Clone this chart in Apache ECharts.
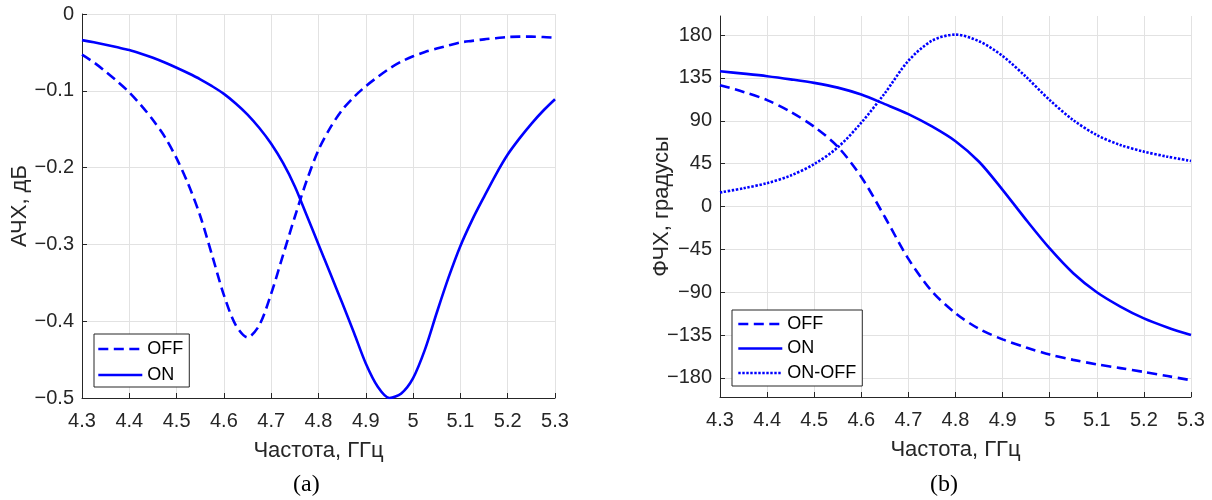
<!DOCTYPE html>
<html>
<head>
<meta charset="utf-8">
<script src="https://cdn.jsdelivr.net/npm/echarts@6/dist/echarts.min.js"></script>
<style>
  html, body { margin: 0; padding: 0; background: #fff; }
  #chart { width: 1212px; height: 500px; }
</style>
</head>
<body>
<div id="chart"></div>
<script>
// (a) magnitude response, dB (step 0.025 GHz)
const freqAmp = [4.300, 4.325, 4.350, 4.375, 4.400, 4.425, 4.450, 4.475, 4.500, 4.525, 4.550, 4.575, 4.600, 4.625, 4.650, 4.675, 4.700, 4.725, 4.750, 4.775, 4.800, 4.825, 4.850, 4.875, 4.900, 4.925, 4.950, 4.975, 5.000, 5.025, 5.050, 5.075, 5.100, 5.125, 5.150, 5.175, 5.200, 5.225, 5.250, 5.275, 5.300];
const ampOff = [-0.053, -0.063, -0.075, -0.088, -0.102, -0.119, -0.138, -0.160, -0.188, -0.222, -0.263, -0.314, -0.366, -0.405, -0.421, -0.405, -0.364, -0.314, -0.264, -0.217, -0.177, -0.148, -0.125, -0.108, -0.094, -0.082, -0.071, -0.062, -0.055, -0.0495, -0.045, -0.041, -0.037, -0.035, -0.033, -0.0315, -0.030, -0.0295, -0.0295, -0.030, -0.031];
const ampOn = [-0.0340, -0.0369, -0.0400, -0.0434, -0.0470, -0.0517, -0.0570, -0.0632, -0.0700, -0.0772, -0.0850, -0.0940, -0.1040, -0.1165, -0.1310, -0.1485, -0.1690, -0.1940, -0.2245, -0.2620, -0.3000, -0.3380, -0.3760, -0.4150, -0.4550, -0.4850, -0.5000, -0.4940, -0.4740, -0.4370, -0.3890, -0.3430, -0.3020, -0.2680, -0.2380, -0.2090, -0.1830, -0.1620, -0.1430, -0.1260, -0.1110];

// (b) phase response, degrees (step 0.05 GHz)
const freqPhase = [4.30, 4.35, 4.40, 4.45, 4.50, 4.55, 4.60, 4.65, 4.70, 4.75, 4.80, 4.85, 4.90, 4.95, 5.00, 5.05, 5.10, 5.15, 5.20, 5.25, 5.30];
const phaseOff = [127.4, 120.3, 111.7, 99.4, 83.7, 62.8, 31.0, -11.0, -55.0, -89.0, -112.0, -128.5, -139.5, -148.0, -155.5, -161.0, -165.7, -169.7, -173.7, -178.0, -182.4];
const phaseOn = [142.0, 139.5, 136.8, 133.5, 129.8, 124.8, 117.5, 107.5, 97.0, 84.0, 68.5, 47.0, 17.5, -14.0, -44.0, -70.0, -90.0, -105.0, -117.5, -127.0, -135.0];
const phaseDiff = [14.7, 19.2, 24.5, 32.5, 44.5, 62.0, 88.0, 119.0, 153.0, 174.0, 180.5, 173.5, 158.0, 136.0, 111.7, 90.7, 75.0, 64.6, 57.6, 52.3, 47.8];

// tick layout
const freqTicks = { min: 4.3, max: 5.3, interval: 0.1 };
const ampTicks = { min: -0.5, max: 0, interval: 0.1 };
const phaseRange = { min: -200, max: 200 };
const phaseTickValues = [-180, -135, -90, -45, 0, 45, 90, 135, 180];

const pairs = (xs, ys) => xs.map((x, i) => [x, ys[i]]);

const AXIS = '#262626';
const GRID = '#e2e2e2';
const BLUE = '#0000ff';
const SANS = 'Liberation Sans, Arial, Helvetica, sans-serif';
const SERIF = 'Liberation Serif, Times New Roman, serif';
const minus = s => String(s).replace('-', '\u2212');

const tickStyle = { show: true, inside: true, length: 5, lineStyle: { color: AXIS } };
const axisLineStyle = { show: true, onZero: false, lineStyle: { color: AXIS, width: 1 } };
const gridLines = { show: true, lineStyle: { color: GRID, width: 1 } };

function xAxisFor(gridIndex) {
  return {
    type: 'value', gridIndex,
    min: freqTicks.min, max: freqTicks.max, interval: freqTicks.interval,
    name: 'Частота, ГГц', nameLocation: 'middle', nameGap: 42, nameMoveOverlap: false,
    nameTextStyle: { fontFamily: SANS, fontSize: 22, color: AXIS },
    axisLine: axisLineStyle,
    axisTick: tickStyle,
    axisLabel: { fontFamily: SANS, fontSize: 20, color: AXIS, margin: 13,
                 formatter: v => minus(+v.toFixed(1)) },
    splitLine: gridLines
  };
}

const ampAxis = {
  type: 'value', gridIndex: 0,
  min: ampTicks.min, max: ampTicks.max, interval: ampTicks.interval,
  name: 'АЧХ, дБ', nameLocation: 'middle', nameRotate: 90, nameGap: 51, nameMoveOverlap: false,
  nameTextStyle: { fontFamily: SANS, fontSize: 22, color: AXIS },
  axisLine: axisLineStyle,
  axisTick: tickStyle,
  axisLabel: { fontFamily: SANS, fontSize: 20, color: AXIS, margin: 8,
               formatter: v => minus(+v.toFixed(2)) },
  splitLine: gridLines
};

const phaseAxis = {
  type: 'value', gridIndex: 1,
  min: phaseRange.min, max: phaseRange.max,
  name: 'ФЧХ, градусы', nameLocation: 'middle', nameRotate: 90, nameGap: 47, nameMoveOverlap: false,
  nameTextStyle: { fontFamily: SANS, fontSize: 22, color: AXIS },
  axisLine: axisLineStyle,
  axisTick: Object.assign({}, tickStyle, { customValues: phaseTickValues }),
  axisLabel: { fontFamily: SANS, fontSize: 20, color: AXIS, margin: 8,
               customValues: phaseTickValues, formatter: v => minus(v) },
  splitLine: gridLines
};

const dashed = [10, 5.5];
const dotted = [2.4, 1.6];

function line(name, xi, data, type) {
  return {
    name, type: 'line', xAxisIndex: xi, yAxisIndex: xi, data,
    smooth: 0.3, symbol: 'none', showSymbol: false, silent: true,
    lineStyle: { color: BLUE, width: 2.6, type, cap: 'butt' },
    itemStyle: { color: BLUE },
    z: 3
  };
}

const legendBase = {
  orient: 'vertical', itemWidth: 44, itemHeight: 14,
  backgroundColor: '#fff', borderColor: AXIS, borderWidth: 1, borderRadius: 0,
  textStyle: { fontFamily: SANS, fontSize: 18, color: '#000', lineHeight: 18 },
  lineStyle: { width: 2.6 },
  itemStyle: { opacity: 0 },
  selectedMode: false
};

const chart = echarts.init(document.getElementById('chart'), null, { renderer: 'canvas' });
chart.setOption({
  animation: false,
  backgroundColor: '#fff',
  grid: [
    { left: 82, top: 14, width: 473, height: 384 },
    { left: 720, top: 16, width: 471, height: 381 }
  ],
  xAxis: [xAxisFor(0), xAxisFor(1)],
  yAxis: [ampAxis, phaseAxis],
  legend: [
    Object.assign({}, legendBase, { data: ['OFF', 'ON'], left: 94, top: 334,
      itemGap: 8, padding: [6, 6, 3, 3] }),
    Object.assign({}, legendBase, { data: ['OFF', 'ON', 'ON-OFF'], left: 732, top: 310,
      itemGap: 6.5, padding: [5, 6, 4, 5] })
  ],
  series: [
    line('OFF', 0, pairs(freqAmp, ampOff), dashed),
    line('ON', 0, pairs(freqAmp, ampOn), 'solid'),
    line('OFF', 1, pairs(freqPhase, phaseOff), dashed),
    line('ON', 1, pairs(freqPhase, phaseOn), 'solid'),
    line('ON-OFF', 1, pairs(freqPhase, phaseDiff), dotted)
  ],
  graphic: [
    { type: 'text', left: 293, top: 473,
      style: { text: '(a)', fontFamily: SERIF, fontSize: 24, fill: '#000' } },
    { type: 'text', left: 930, top: 473,
      style: { text: '(b)', fontFamily: SERIF, fontSize: 24, fill: '#000' } }
  ]
});
</script>
</body>
</html>
